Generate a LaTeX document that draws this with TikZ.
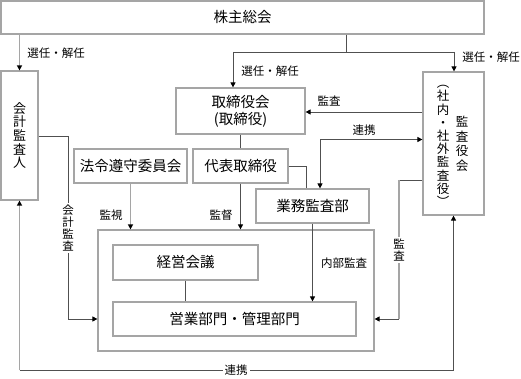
\documentclass[tikz,border=0pt]{standalone}
\usepackage{fontspec}
\setmainfont{Noto Sans CJK JP}
\usetikzlibrary{arrows.meta}
\definecolor{boxgray}{RGB}{165,165,165}
\definecolor{linegray}{RGB}{80,80,80}
\begin{document}
\begin{tikzpicture}[x=1pt,y=-1pt,
  box/.style={draw=boxgray,line width=1.2pt,inner sep=0pt,font=\fontsize{14.5}{17}\selectfont,align=center},
  conn/.style={draw=linegray,line width=0.8pt},
  lconn/.style={draw=boxgray,line width=1.4pt},
  arr/.style={-{Triangle[length=5pt,width=5pt,color=black]}},
  rarr/.style={{Triangle[length=5pt,width=5pt,color=black]}-},
  barr/.style={{Triangle[length=5pt,width=5pt,color=black]}-{Triangle[length=5pt,width=5pt,color=black]}},
  lab/.style={font=\fontsize{11.5}{12}\selectfont,inner sep=1pt,text=black},
  vlab/.style={align=center,font=\fontsize{11.5}{12.2}\selectfont,fill=white,inner sep=1.5pt},
  vtext/.style={align=center,inner sep=0pt},
]
\useasboundingbox (0,0) rectangle (521,379);

% boxes
\node[box,minimum width=483pt,minimum height=33pt] (kabu) at (242.5,17.5) {株主総会};
\node[box,minimum width=37pt,minimum height=129pt] (kaikei) at (19.5,135.5) {};
\node[vtext,font=\fontsize{13}{13.7}\selectfont] (kaikeit) at (kaikei.center) {会\\計\\監\\査\\人};
\node[box,minimum width=129pt,minimum height=46pt] (torishimari) at (240.5,111) {取締役会\\(取締役)};
\node[box,minimum width=61pt,minimum height=143pt] (kansayaku) at (453.5,143.5) {};
\node[vtext,font=\fontsize{12.5}{13.2}\selectfont] (kansaA) at (443,146) {︵\\社\\内\\・\\社\\外\\監\\査\\役\\︶};
\node[vtext,font=\fontsize{12.5}{14.5}\selectfont] (kansaB) at (462,144) {監\\査\\役\\会};
\node[box,minimum width=113pt,minimum height=34pt] (houre) at (130.5,166) {法令遵守委員会};
\node[box,minimum width=95pt,minimum height=34pt] (daihyo) at (240.5,166) {代表取締役};
\node[box,minimum width=113pt,minimum height=34pt] (gyomu) at (312.5,206) {業務監査部};
\node[box,minimum width=276pt,minimum height=121pt] (big) at (236,290.5) {};
\node[box,minimum width=145pt,minimum height=35pt] (keiei) at (185.5,262.5) {経営会議};
\node[box,minimum width=243pt,minimum height=34pt] (eigyo) at (234.5,319) {営業部門・管理部門};

% election lines
\coordinate (jm) at (346,52);
\coordinate (jl) at (233,52);
\coordinate (jr) at (454,52);
\draw[conn] (kabu.south -| jm) -- (jm);
\draw[conn] (jl) -- (jr);
\draw[conn,arr] (jl) -- (torishimari.north -| jl);
\draw[conn,arr] (jr) -- (kansayaku.north -| jr);
\draw[lconn,arr] (kabu.south -| kaikei.north) -- (kaikei.north);
\node[lab] (l1) at (56,53) {選任・解任};
\node[lab] (l2) at (270,71) {選任・解任};
\node[lab] (l3) at (491,57) {選任・解任};

% audit board to board of directors
\draw[conn,arr] (kansayaku.west |- 0,112) -- (torishimari.east |- 0,112);
\node[lab] (l4) at (329,101) {監査};
\draw[conn,barr] (gyomu.north -| 320,0) |- (kansayaku.west |- 0,139.5);
\node[lab] (l5) at (364,130) {連携};

% internal structure
\draw[conn] (torishimari.south) -- (daihyo.north);
\draw[conn] (daihyo.east) -| (gyomu.north -| 306,0);
\draw[lconn,arr] (houre.south) -- (big.north -| houre.south);
\node[lab] (l6) at (111,215) {監視};
\draw[conn,arr] (daihyo.south) -- (big.north -| daihyo.south);
\node[lab] (l7) at (221,215) {監督};
\draw[conn,arr] (gyomu.south) -- (eigyo.north -| gyomu.south);
\node[lab] (l8) at (344,263) {内部監査};
\draw[conn] (keiei.south) -- (eigyo.north -| keiei.south);

% accounting audit
\coordinate (ka1) at (68,136);
\coordinate (ka2) at (68,319);
\draw[conn,arr] (kaikei.east |- ka1) -- (ka1) -- (ka2) -- (big.west |- ka2);
\node[vlab] (l9) at (68,228) {会\\計\\監\\査};

% right audit
\coordinate (rk1) at (399,180);
\coordinate (rk2) at (399,319);
\draw[conn] (kansayaku.west |- rk1) -- (rk1);
\draw[lconn] (rk1) -- (rk2);
\draw[conn,arr] (rk2) -- (big.east |- rk2);
\node[vlab] (l10) at (399,250) {監\\査};

% bottom cooperation
\coordinate (bl) at (19.5,370);
\coordinate (br) at (453.5,370);
\draw[lconn,rarr] (kaikei.south) -- (kaikei.south |- bl);
\draw[conn] (kaikei.south |- bl) -- (kansayaku.south |- br);
\draw[conn,arr] (kansayaku.south |- br) -- (kansayaku.south);
\node[lab,fill=white,inner sep=2pt] (l11) at (236,370) {連携};
\end{tikzpicture}
\end{document}
